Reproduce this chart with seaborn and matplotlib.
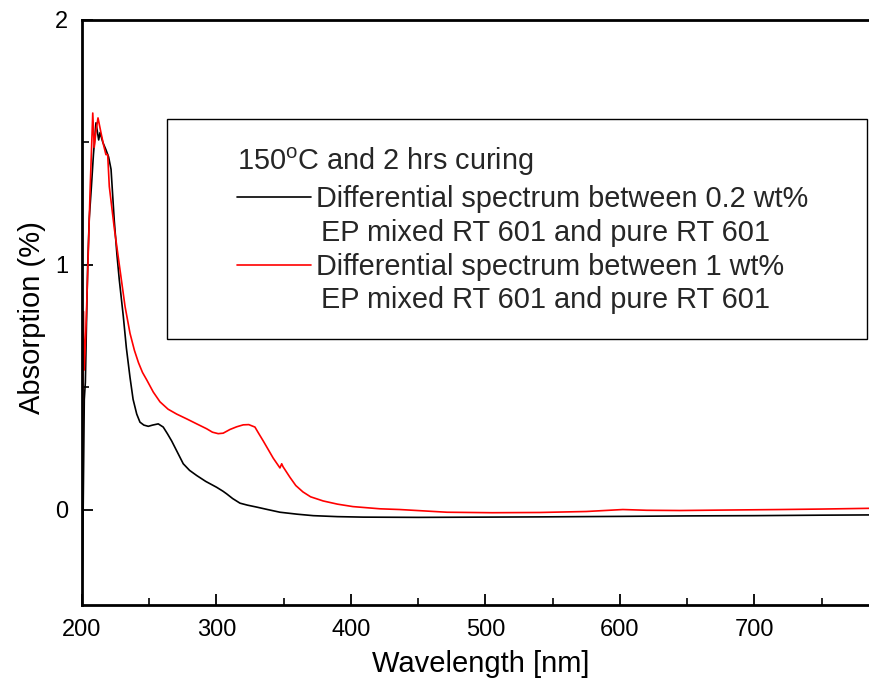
import numpy as np
import pandas as pd
import matplotlib
matplotlib.use("Agg")
import matplotlib.pyplot as plt
from matplotlib import font_manager
from matplotlib.ticker import MultipleLocator, FixedLocator
from matplotlib.patches import Rectangle
from matplotlib.lines import Line2D
import seaborn as sns

# ---- data ----
wl_black = [199.8, 200.5, 201.7, 202.5, 203.3, 204.2, 205.4, 207.0, 208.5, 210.4, 212.4,
            213.4, 215.5, 217.8, 219.8, 221.6, 224.0, 226.0, 227.7, 230.7, 233.0, 235.7, 238.0,
            240.7, 243.1, 246.0, 249.3, 252.5, 256.7, 260.4, 263.5, 266.7, 270.4, 275.3, 280.0,
            285.3, 292.0, 300.1, 304.8, 307.6, 312.0, 317.5, 323.0, 329.9, 338.0, 347.2,
            360.0, 372.0, 390.0, 409.0, 450.0, 500.0, 540.0, 600.0, 650.0, 700.0, 750.0, 786.0]
val_black = [-0.39, -0.20, 0.45, 0.52, 0.75, 0.99, 1.19, 1.32, 1.45, 1.58, 1.51,
             1.54, 1.50, 1.47, 1.44, 1.39, 1.18, 1.04, 0.94, 0.79, 0.66, 0.54, 0.45,
             0.39, 0.357, 0.345, 0.34, 0.345, 0.35, 0.337, 0.31, 0.28, 0.24, 0.187, 0.16,
             0.139, 0.115, 0.091, 0.075, 0.064, 0.045, 0.026, 0.018, 0.010, 0.0, -0.011,
             -0.019, -0.025, -0.029, -0.031, -0.032, -0.031, -0.030, -0.028, -0.026, -0.025, -0.023, -0.022]

wl_red = [199.3, 200.2, 201.0, 201.7, 203.0, 204.2, 206.0, 208.0, 209.1, 210.5, 211.9,
          214.1, 216.0, 217.8, 219.1, 220.3, 224.0, 229.0, 232.0, 235.7, 239.0, 242.0, 245.0,
          248.1, 253.0, 258.0, 264.0, 270.4, 278.0, 285.3, 292.7, 297.0, 301.3, 305.0, 310.0,
          315.0, 319.9, 324.0, 328.6, 331.5, 334.8, 338.5, 342.2, 347.2, 348.5, 349.5, 354.6,
          359.0, 364.3, 370.0, 379.4, 390.0, 401.5, 421.6, 436.4, 471.4, 505.0, 540.5, 575.0,
          602.2, 620.0, 644.6, 680.0, 719.0, 750.0, 786.0]
val_red = [-0.39, 0.20, 0.81, 0.57, 0.75, 0.96, 1.30, 1.62, 1.48, 1.55, 1.60,
           1.54, 1.49, 1.45, 1.45, 1.32, 1.15, 0.95, 0.83, 0.72, 0.65, 0.60, 0.56,
           0.53, 0.48, 0.44, 0.41, 0.39, 0.37, 0.35, 0.33, 0.316, 0.31, 0.312, 0.327,
           0.338, 0.346, 0.347, 0.337, 0.31, 0.28, 0.245, 0.21, 0.17, 0.187, 0.175, 0.132,
           0.098, 0.072, 0.052, 0.035, 0.022, 0.012, 0.003, 0.0, -0.011, -0.013, -0.012, -0.008,
           0.0, -0.003, -0.004, -0.002, 0.0, 0.002, 0.005]

x_ticks = [200, 300, 400, 500, 600, 700]
y_ticks = [0, 1, 2]
x_label = "Wavelength [nm]"
y_label = "Absorption (%)"
legend_title = r"150$^{\mathrm{o}}$C and 2 hrs curing"
series_labels = ["Differential spectrum between 0.2 wt%",
                 "Differential spectrum between 1 wt%"]
series_sub = ["EP mixed RT 601 and pure RT 601",
              "EP mixed RT 601 and pure RT 601"]
colors = ["#000000", "#ff0000"]

df = pd.concat([
    pd.DataFrame({"wl": wl_black, "val": val_black, "series": series_labels[0]}),
    pd.DataFrame({"wl": wl_red, "val": val_red, "series": series_labels[1]}),
])

sns.set_theme(style="ticks")
plt.rcParams["font.family"] = ["Liberation Sans", "DejaVu Sans"]
plt.rcParams["mathtext.fontset"] = "custom"
plt.rcParams["mathtext.rm"] = "Liberation Sans"

names = {f.name for f in font_manager.fontManager.ttflist}
narrow = "Liberation Sans Narrow" if "Liberation Sans Narrow" in names else "Liberation Sans"
tick_fs = 19 if narrow == "Liberation Sans Narrow" else 17

W, H = 870, 684
fig = plt.figure(figsize=(W / 100, H / 100), dpi=100)
ax = fig.add_axes([82 / W, (H - 605) / H, 788 / W, 585 / H])

for lab, col in zip(series_labels, colors):
    sub = df[df["series"] == lab]
    sns.lineplot(data=sub, x="wl", y="val", ax=ax, color=col, lw=1.2,
                 sort=False, estimator=None, legend=False)

ax.set_xlim(200, 786)
ax.set_ylim(-0.39, 2.0)
ax.xaxis.set_major_locator(FixedLocator(x_ticks))
ax.xaxis.set_minor_locator(MultipleLocator(50))
ax.yaxis.set_major_locator(FixedLocator(y_ticks))
ax.yaxis.set_minor_locator(MultipleLocator(0.5))
ax.set_xticklabels([str(v) for v in x_ticks], fontfamily=narrow)
ax.set_yticklabels([str(v) for v in y_ticks], fontfamily=narrow)
ax.tick_params(which="major", direction="in", length=8, width=1.3, labelsize=tick_fs,
               colors="black", pad=10)
ax.tick_params(which="minor", direction="in", length=5, width=1.2, colors="black")
ax.tick_params(axis="x", which="both", top=False)
ax.tick_params(axis="y", which="both", right=False)

for s in ["left", "bottom", "top"]:
    ax.spines[s].set_linewidth(2.0)
    ax.spines[s].set_color("black")
ax.spines["right"].set_visible(False)

ax.set_xlabel(x_label, fontsize=21, color="black")
ax.set_ylabel(y_label, fontsize=21, color="black")
ax.xaxis.set_label_coords((481 - 82) / 788, (605 - 650) / 585)
ax.yaxis.set_label_coords((46 - 82) / 788, (605 - 318) / 585)

# legend box drawn in figure coordinates
def fx(px):
    return px / W

def fy(py):
    return 1 - py / H

fig.add_artist(Rectangle((fx(167), fy(339)), fx(867) - fx(167), fy(119) - fy(339),
                         transform=fig.transFigure, fill=False, lw=1.0, ec="black"))
fs = 20.8
fig.text(fx(237), fy(170), legend_title, fontsize=fs, va="baseline", ha="left")
rows = [(197, 231), (265, 298)]
for (ly, sy), col, lab, sl in zip(rows, colors, series_labels, series_sub):
    fig.add_artist(Line2D([fx(237), fx(311)], [fy(ly), fy(ly)], color=col, lw=1.2,
                          transform=fig.transFigure))
    fig.text(fx(316), fy(ly + 10), lab, fontsize=fs, va="baseline", ha="left")
    fig.text(fx(321), fy(sy + 10), sl, fontsize=fs, va="baseline", ha="left")

fig.savefig("out.png", dpi=100)
